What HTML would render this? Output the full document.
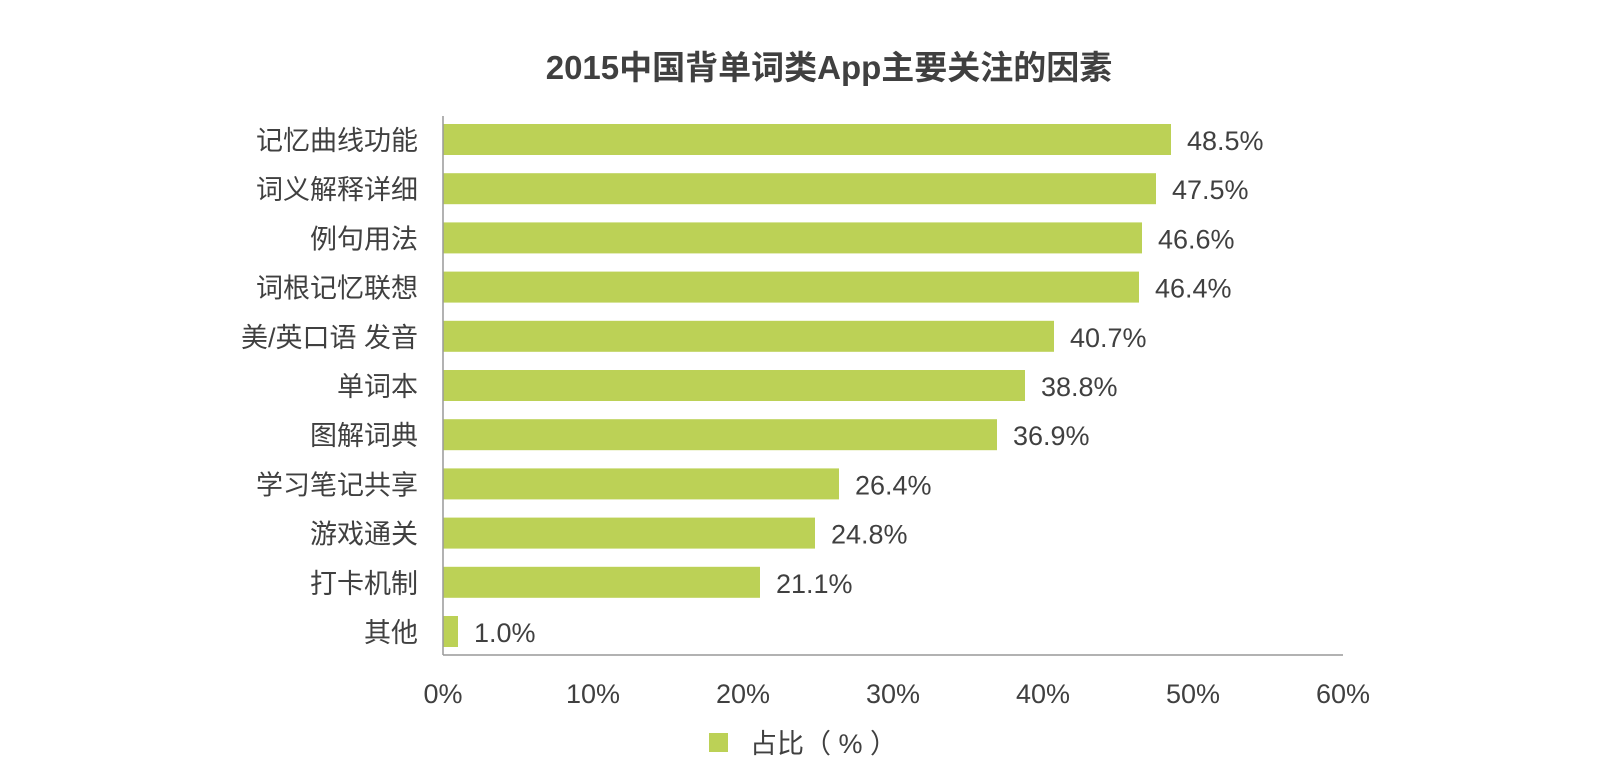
<!DOCTYPE html>
<html><head><meta charset="utf-8"><style>
body{margin:0;background:#fff;}
svg text{font-family:"Liberation Sans","Noto Sans CJK SC",sans-serif;fill:#404040;}
</style></head><body>
<svg width="1616" height="774" viewBox="0 0 1616 774" xmlns="http://www.w3.org/2000/svg">
<text x="829" y="79" text-anchor="middle" font-size="33" font-weight="bold" fill="#333">2015中国背单词类App主要关注的因素</text>
<g font-size="27">
<rect x="443" y="124" width="728" height="31" fill="#bcd156"/><text x="418" y="150" text-anchor="end">记忆曲线功能</text><text x="1187" y="150">48.5%</text>
<rect x="443" y="173.2" width="713" height="31" fill="#bcd156"/><text x="418" y="199.2" text-anchor="end">词义解释详细</text><text x="1172" y="199.2">47.5%</text>
<rect x="443" y="222.4" width="699" height="31" fill="#bcd156"/><text x="418" y="248.4" text-anchor="end">例句用法</text><text x="1158" y="248.4">46.6%</text>
<rect x="443" y="271.6" width="696" height="31" fill="#bcd156"/><text x="418" y="297.6" text-anchor="end">词根记忆联想</text><text x="1155" y="297.6">46.4%</text>
<rect x="443" y="320.8" width="611" height="31" fill="#bcd156"/><text x="418" y="346.8" text-anchor="end">美/英口语 发音</text><text x="1070" y="346.8">40.7%</text>
<rect x="443" y="370" width="582" height="31" fill="#bcd156"/><text x="418" y="396" text-anchor="end">单词本</text><text x="1041" y="396">38.8%</text>
<rect x="443" y="419.2" width="554" height="31" fill="#bcd156"/><text x="418" y="445.2" text-anchor="end">图解词典</text><text x="1013" y="445.2">36.9%</text>
<rect x="443" y="468.4" width="396" height="31" fill="#bcd156"/><text x="418" y="494.4" text-anchor="end">学习笔记共享</text><text x="855" y="494.4">26.4%</text>
<rect x="443" y="517.6" width="372" height="31" fill="#bcd156"/><text x="418" y="543.6" text-anchor="end">游戏通关</text><text x="831" y="543.6">24.8%</text>
<rect x="443" y="566.8" width="317" height="31" fill="#bcd156"/><text x="418" y="592.8" text-anchor="end">打卡机制</text><text x="776" y="592.8">21.1%</text>
<rect x="443" y="616" width="15" height="31" fill="#bcd156"/><text x="418" y="642" text-anchor="end">其他</text><text x="474" y="642">1.0%</text>
</g>
<line x1="443" y1="116" x2="443" y2="655" stroke="#999" stroke-width="1.5"/>
<line x1="443" y1="655" x2="1343" y2="655" stroke="#999" stroke-width="1.5"/>
<g font-size="27" text-anchor="middle">
<text x="443" y="703">0%</text><text x="593" y="703">10%</text><text x="743" y="703">20%</text><text x="893" y="703">30%</text><text x="1043" y="703">40%</text><text x="1193" y="703">50%</text><text x="1343" y="703">60%</text>
</g>
<rect x="709" y="733" width="19" height="19" fill="#bcd156"/>
<text x="750" y="753" font-size="27">占比（ % ）</text>
</svg>
</body></html>
